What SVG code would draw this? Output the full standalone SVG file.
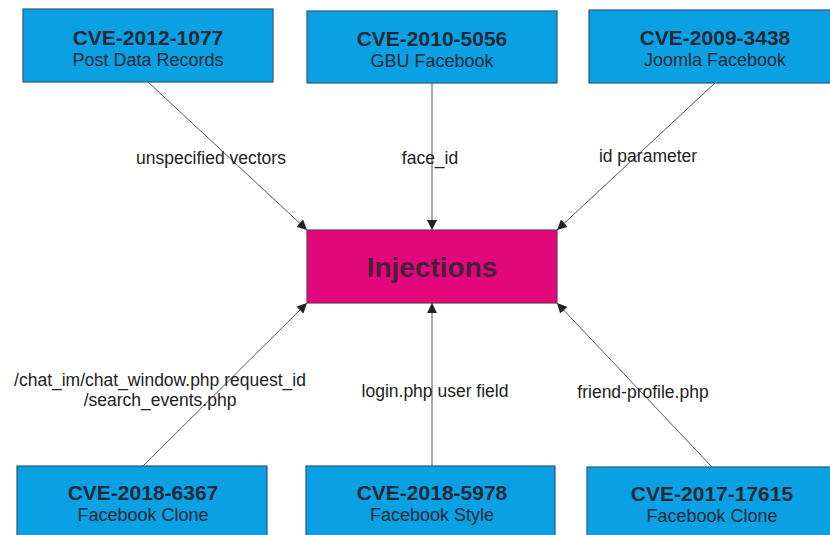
<svg xmlns="http://www.w3.org/2000/svg" width="830" height="535" viewBox="0 0 830 535">
<style>
.box{fill:#09a1e4;stroke:#2b5878;stroke-width:1.2}
.inj{fill:#e2087b;stroke:#6a3a5a;stroke-width:1.2}
.t{font-family:"Liberation Sans",Arial,sans-serif;font-weight:bold;font-size:21px;fill:#1f2a36;text-anchor:middle}
.s{font-family:"Liberation Sans",Arial,sans-serif;font-size:18px;fill:#1f2a36;text-anchor:middle}
.l{font-family:"Liberation Sans",Arial,sans-serif;font-size:17.5px;fill:#222;text-anchor:middle}
.c{stroke:#555;stroke-width:1;fill:none;marker-end:url(#a)}
</style>
<defs>
<marker id="a" viewBox="0 0 10 10" refX="10" refY="5" markerWidth="10" markerHeight="10" markerUnits="userSpaceOnUse" orient="auto">
<path d="M0,0 L10,5 L0,10 z" fill="#222"/>
</marker>
</defs>
<rect width="830" height="535" fill="#fff"/>
<g id="connectors">
<line class="c" x1="148" y1="82" x2="307" y2="230"/>
<line class="c" x1="432" y1="83" x2="432" y2="230"/>
<line class="c" x1="715" y1="83" x2="557" y2="230"/>
<line class="c" x1="143" y1="466" x2="307" y2="303"/>
<line class="c" x1="432" y1="466" x2="432" y2="303"/>
<line class="c" x1="712" y1="467" x2="557" y2="303"/>
<text class="l" x="211" y="164">unspecified vectors</text>
<text class="l" x="430" y="164">face_id</text>
<text class="l" x="648" y="162">id parameter</text>
<text class="l" x="160" y="386">/chat_im/chat_window.php request_id</text>
<text class="l" x="160" y="406">/search_events.php</text>
<text class="l" x="435" y="397">login.php user field</text>
<text class="l" x="643" y="398">friend-profile.php</text>
</g>
<g id="n1"><rect class="box" x="23" y="9" width="250" height="73"/><text class="t" x="148" y="45">CVE-2012-1077</text><text class="s" x="148" y="66">Post Data Records</text></g>
<g id="n2"><rect class="box" x="307" y="11" width="250" height="72"/><text class="t" x="432" y="46">CVE-2010-5056</text><text class="s" x="432" y="67">GBU Facebook</text></g>
<g id="n3"><rect class="box" x="589" y="10" width="250" height="73"/><text class="t" x="715" y="45">CVE-2009-3438</text><text class="s" x="715" y="66">Joomla Facebook</text></g>
<g id="injections"><rect class="inj" x="307" y="230" width="250" height="73"/><text class="t" x="432" y="277" style="font-size:28px;fill:#4a1e3a">Injections</text></g>
<g id="n4"><rect class="box" x="17" y="466" width="250" height="80"/><text class="t" x="143" y="500">CVE-2018-6367</text><text class="s" x="143" y="521">Facebook Clone</text></g>
<g id="n5"><rect class="box" x="306" y="466" width="249" height="80"/><text class="t" x="432" y="500">CVE-2018-5978</text><text class="s" x="432" y="521">Facebook Style</text></g>
<g id="n6"><rect class="box" x="587" y="467" width="250" height="80"/><text class="t" x="712" y="501">CVE-2017-17615</text><text class="s" x="712" y="522">Facebook Clone</text></g>
</svg>
